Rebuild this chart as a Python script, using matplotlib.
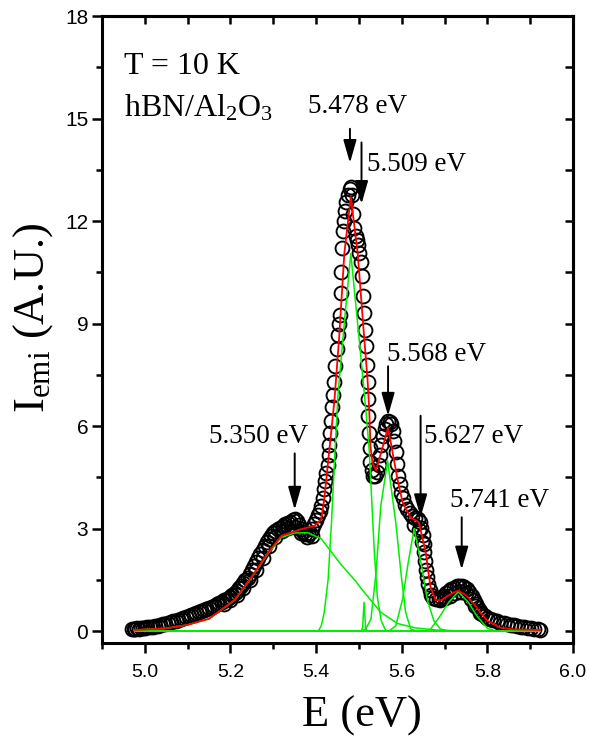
import matplotlib
matplotlib.use('Agg')
import matplotlib.pyplot as plt
from matplotlib.ticker import MultipleLocator

plt.rcParams['mathtext.fontset'] = 'custom'
plt.rcParams['mathtext.rm'] = 'Liberation Serif'
plt.rcParams['mathtext.it'] = 'Liberation Serif:italic'

# measured PL spectrum (open circles)
energy = [4.970, 4.974, 4.978, 4.982, 4.986, 4.990, 4.995, 5.000, 5.006, 5.012, 5.018, 5.024,
          5.030, 5.036, 5.042, 5.048, 5.054, 5.060, 5.066, 5.072, 5.078, 5.084, 5.090, 5.096,
          5.102, 5.108, 5.114, 5.120, 5.126, 5.132, 5.138, 5.144, 5.150, 5.156, 5.162, 5.168,
          5.174, 5.180, 5.186, 5.192, 5.198, 5.204, 5.210, 5.215, 5.220, 5.225, 5.230, 5.235,
          5.240, 5.245, 5.250, 5.255, 5.260, 5.265, 5.270, 5.275, 5.280, 5.285, 5.290, 5.295,
          5.300, 5.305, 5.310, 5.316, 5.322, 5.328, 5.334, 5.340, 5.345, 5.350, 5.355, 5.360,
          5.365, 5.370, 5.375, 5.380, 5.385, 5.390, 5.395, 5.400, 5.404, 5.408, 5.412, 5.415,
          5.418, 5.421, 5.424, 5.427, 5.429, 5.431, 5.433, 5.435, 5.437, 5.439, 5.442, 5.445,
          5.448, 5.451, 5.453, 5.455, 5.457, 5.459, 5.461, 5.463, 5.465, 5.467, 5.470, 5.474,
          5.478, 5.481, 5.484, 5.487, 5.489, 5.492, 5.495, 5.498, 5.501, 5.504, 5.507, 5.510,
          5.512, 5.514, 5.516, 5.518, 5.520, 5.521, 5.522, 5.523, 5.525, 5.527, 5.530, 5.534,
          5.538, 5.542, 5.546, 5.549, 5.552, 5.556, 5.560, 5.564, 5.568, 5.572, 5.576, 5.580,
          5.583, 5.586, 5.589, 5.592, 5.595, 5.599, 5.603, 5.608, 5.613, 5.619, 5.625, 5.631,
          5.637, 5.642, 5.646, 5.649, 5.651, 5.653, 5.655, 5.657, 5.659, 5.662, 5.665, 5.669,
          5.674, 5.680, 5.686, 5.692, 5.698, 5.704, 5.710, 5.716, 5.722, 5.728, 5.734, 5.740,
          5.746, 5.752, 5.758, 5.763, 5.768, 5.773, 5.778, 5.783, 5.788, 5.794, 5.800, 5.807,
          5.814, 5.822, 5.830, 5.838, 5.846, 5.854, 5.862, 5.870, 5.878, 5.886, 5.894, 5.902,
          5.910, 5.918, 5.923,
          # second (lower) trace of points
          5.185, 5.200, 5.215, 5.230, 5.245, 5.260, 5.275, 5.290, 5.305, 5.320, 5.335, 5.350,
          5.365, 5.378, 5.390, 5.628, 5.640, 5.648, 5.690, 5.700, 5.712, 5.725, 5.738, 5.750,
          5.762, 5.772, 5.782]
intensity = [0.05, 0.07, 0.06, 0.08, 0.07, 0.09, 0.08, 0.10, 0.11, 0.12, 0.13, 0.15,
             0.16, 0.18, 0.20, 0.22, 0.23, 0.26, 0.28, 0.30, 0.33, 0.35, 0.38, 0.41,
             0.44, 0.47, 0.50, 0.53, 0.56, 0.59, 0.62, 0.64, 0.68, 0.71, 0.74, 0.78,
             0.82, 0.86, 0.90, 0.95, 1.00, 1.05, 1.10, 1.18, 1.25, 1.33, 1.40, 1.48,
             1.56, 1.66, 1.78, 1.90, 2.02, 2.14, 2.26, 2.38, 2.50, 2.60, 2.70, 2.78,
             2.86, 2.92, 2.98, 3.03, 3.08, 3.12, 3.16, 3.20, 3.25, 3.27, 3.22, 3.10,
             2.98, 2.90, 2.85, 2.84, 2.88, 2.98, 3.12, 3.26, 3.40, 3.52, 3.66, 3.90,
             4.15, 4.40, 4.62, 4.85, 5.15, 5.45, 5.80, 6.15, 6.55, 6.90, 7.30, 7.75,
             8.25, 8.65, 9.00, 9.25, 9.90, 10.5, 11.2, 11.7, 12.0, 12.3, 12.55, 12.75,
             12.95, 13.0, 12.75, 12.2, 11.8, 11.55, 11.45, 11.3, 11.05, 10.8, 10.4, 9.8,
             9.3, 8.8, 8.35, 7.8, 7.3, 6.8, 6.3, 5.8, 5.35, 4.95, 4.70, 4.55,
             4.55, 4.65, 4.85, 5.15, 5.45, 5.70, 5.90, 6.05, 6.15, 6.12, 6.05, 5.85,
             5.55, 5.25, 4.90, 4.55, 4.30, 4.05, 3.88, 3.70, 3.57, 3.45, 3.38, 3.32,
             3.28, 3.18, 3.02, 2.80, 2.55, 2.30, 2.05, 1.80, 1.58, 1.38, 1.20, 1.05,
             0.97, 0.94, 0.95, 0.99, 1.04, 1.10, 1.16, 1.22, 1.27, 1.31, 1.33, 1.33,
             1.30, 1.24, 1.15, 1.03, 0.90, 0.78, 0.67, 0.58, 0.50, 0.43, 0.38, 0.34,
             0.31, 0.28, 0.25, 0.23, 0.21, 0.19, 0.17, 0.15, 0.13, 0.11, 0.09, 0.08,
             0.06, 0.05, 0.04,
             0.80, 0.92, 1.05, 1.25, 1.48, 1.80, 2.15, 2.50, 2.75, 2.92, 3.02, 3.05,
             2.88, 2.75, 2.78, 3.10, 2.95, 2.60, 0.90, 0.96, 1.02, 1.10, 1.15, 1.10,
             0.95, 0.72, 0.52]

# total fit (red)
fit_E = [4.977, 5.05, 5.10, 5.15, 5.21, 5.249, 5.288, 5.319, 5.365, 5.396, 5.412, 5.419,
         5.427, 5.435, 5.443, 5.454, 5.466, 5.481, 5.497, 5.512, 5.520, 5.524, 5.527, 5.532,
         5.540, 5.568, 5.590, 5.602, 5.621, 5.640, 5.656, 5.667, 5.679, 5.692, 5.706, 5.721,
         5.732, 5.750, 5.768, 5.785, 5.800, 5.830, 5.860, 5.923]
fit_I = [0.03, 0.08, 0.18, 0.36, 0.92, 1.58, 2.30, 2.79, 2.98, 3.08, 3.27, 3.86,
         4.83, 5.80, 6.78, 8.63, 11.07, 12.7, 11.07, 8.63, 7.37, 6.5, 5.4, 4.9,
         4.7, 5.95, 4.45, 3.76, 3.32, 3.18, 2.30, 1.30, 0.90, 0.90, 1.02, 1.13,
         1.18, 1.05, 0.80, 0.52, 0.30, 0.10, 0.05, 0.03]

# fitted components (green)
comp_E = [
    [4.977, 5.05, 5.10, 5.15, 5.21, 5.249, 5.288, 5.319, 5.35, 5.38, 5.412, 5.458, 5.493,
     5.505, 5.551, 5.59, 5.633, 5.68, 5.75, 5.923],
    [4.977, 5.405, 5.412, 5.419, 5.428, 5.436, 5.443, 5.451, 5.465, 5.481, 5.497, 5.510,
     5.518, 5.524, 5.530, 5.536, 5.543, 5.552, 5.562, 5.572, 5.923],
    [4.977, 5.505, 5.5085, 5.512, 5.5155, 5.519, 5.923],
    [4.977, 5.505, 5.516, 5.528, 5.540, 5.551, 5.567, 5.586, 5.598, 5.609, 5.621, 5.635, 5.923],
    [4.977, 5.570, 5.586, 5.602, 5.615, 5.629, 5.645, 5.660, 5.675, 5.690, 5.710, 5.923],
    [4.977, 5.650, 5.667, 5.690, 5.710, 5.732, 5.755, 5.775, 5.800, 5.820, 5.923],
]
comp_I = [
    [0.03, 0.08, 0.18, 0.36, 0.90, 1.56, 2.27, 2.74, 2.87, 2.88, 2.70, 1.95, 1.45,
     1.25, 0.55, 0.22, 0.09, 0.03, 0.0, 0.0],
    [0.0, 0.0, 0.15, 0.55, 1.5, 3.2, 5.0, 6.9, 8.9, 11.05, 9.0, 7.3,
     6.2, 5.3, 3.8, 2.3, 1.0, 0.3, 0.03, 0.0, 0.0],
    [0.0, 0.0, 0.1, 0.84, 0.1, 0.0, 0.0],
    [0.0, 0.0, 0.06, 0.35, 1.72, 3.66, 4.98, 3.18, 1.72, 0.55, 0.06, 0.0, 0.0],
    [0.0, 0.0, 0.15, 0.94, 2.0, 3.0, 2.0, 0.9, 0.3, 0.06, 0.0, 0.0],
    [0.0, 0.0, 0.05, 0.45, 0.85, 1.15, 0.85, 0.45, 0.08, 0.0, 0.0],
]

peak_labels = ['5.350 eV', '5.478 eV', '5.509 eV', '5.568 eV', '5.627 eV', '5.741 eV']
# arrow tail / tip (E, I) and text anchor for each label
arrow_from = [(5.350, 5.20), (5.479, 14.70), (5.506, 14.30), (5.568, 7.75), (5.644, 6.30), (5.740, 3.33)]
arrow_to = [(5.350, 3.55), (5.479, 13.70), (5.506, 12.50), (5.568, 6.30), (5.644, 3.33), (5.740, 1.80)]
text_at = [(5.149, 5.50), (5.380, 15.15), (5.518, 13.45), (5.565, 7.90), (5.651, 5.50), (5.712, 3.62)]

fig = plt.figure(figsize=(5.89, 7.39), dpi=100)
ax = fig.add_axes([0.1732, 0.1299, 0.7997, 0.8484])

ax.plot(energy, intensity, 'o', ms=10, mfc='none', mec='black', mew=1.35, zorder=2)
for e, i in zip(comp_E, comp_I):
    ax.plot(e, i, color='#00ee00', lw=1.1, zorder=3)
ax.plot(fit_E, fit_I, color='red', lw=1.3, zorder=4)

for lab, a0, a1, t in zip(peak_labels, arrow_from, arrow_to, text_at):
    ax.annotate('', xy=a1, xytext=a0,
                arrowprops=dict(arrowstyle='-|>,head_length=0.7,head_width=0.2',
                                mutation_scale=20, color='black', lw=1.4,
                                shrinkA=0, shrinkB=0), zorder=5)
    ax.text(t[0], t[1], lab, ha='left', va='baseline', fontsize=19.5,
            family='Liberation Serif')

ax.text(4.951, 16.29, 'T = 10 K', fontsize=23, family='Liberation Serif', va='baseline')
ax.text(4.951, 15.05, r'hBN/Al$_\mathrm{2}$O$_\mathrm{3}$', fontsize=23,
        family='Liberation Serif', va='baseline')

ax.set_xlim(4.9, 6.0)
ax.set_ylim(-0.35, 18)
ax.xaxis.set_major_locator(MultipleLocator(0.2))
ax.xaxis.set_minor_locator(MultipleLocator(0.1))
ax.yaxis.set_major_locator(MultipleLocator(3))
ax.yaxis.set_minor_locator(MultipleLocator(1.5))

for s in ax.spines.values():
    s.set_linewidth(2.2)
ax.tick_params(which='major', direction='out', length=7, width=1.8)
ax.tick_params(which='minor', direction='out', length=4.5, width=1.8)
ax.tick_params(axis='x', labelsize=14, pad=8)
ax.tick_params(axis='y', labelsize=15, pad=3)
for lab in ax.get_xticklabels() + ax.get_yticklabels():
    lab.set_family('Liberation Sans')

top = ax.secondary_xaxis('top')
top.xaxis.set_major_locator(MultipleLocator(0.1))
top.tick_params(direction='in', length=6, width=1.8, labeltop=False)
top.spines['top'].set_linewidth(2.2)
right = ax.secondary_yaxis('right')
right.yaxis.set_major_locator(MultipleLocator(1.5))
right.tick_params(direction='in', length=6, width=1.8, labelright=False)
right.spines['right'].set_linewidth(2.2)

fig.text(362 / 589, 1 - 727 / 739, 'E (eV)', ha='center', va='baseline',
         fontsize=32, family='Liberation Serif')
fig.text(33 / 589, 1 - 318 / 739, r'I$_\mathrm{emi}$ (A.U.)', ha='center', va='center',
         rotation=90, fontsize=32, family='Liberation Serif')

fig.savefig('out.png', dpi=100)
